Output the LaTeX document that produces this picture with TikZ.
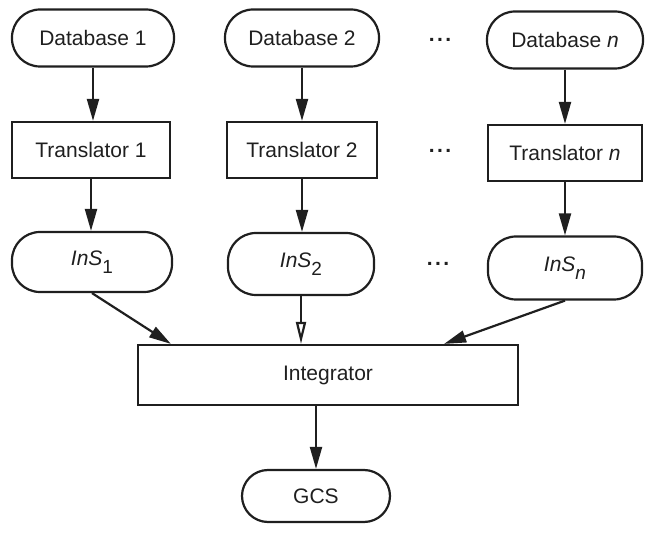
\documentclass[tikz,border=0pt]{standalone}
\usepackage{fontspec}
\setmainfont{Liberation Sans}
\usetikzlibrary{arrows.meta}
\newcommand{\lowsub}[1]{\raisebox{-0.7ex}{\fontsize{19}{21}\selectfont #1}}
\newcommand{\threedots}{\textbf{.\hspace{2.5pt}.\hspace{2.5pt}.}}
\begin{document}
\begin{tikzpicture}[x=1pt,y=-1pt,
  lbl/.style={font=\fontsize{21}{25}\selectfont, text=black!88},
  term/.style={lbl, draw=black!88, line width=2.2pt, rounded corners=28pt, minimum width=158pt, minimum height=57pt, inner sep=0pt},
  proc/.style={lbl, draw=black!88, line width=2.2pt, minimum width=156pt, minimum height=56pt, inner sep=0pt},
  arr/.style={draw=black!88, line width=2.2pt, -{Triangle[length=22pt,width=12pt]}},
  oarr/.style={draw=black!88, line width=2.2pt, -{Triangle[open,length=22pt,width=10pt]}},
  ell/.style={lbl}]
\useasboundingbox (0,0) rectangle (651,545);
% row 1
\node[term, minimum width=162pt] (db1) at (93,38) {Database 1};
\node[term, minimum width=154pt] (db2) at (302,38) {Database 2};
\node[term, minimum width=156pt] (dbn) at (565,40) {Database \textit{n}};
\node[ell] (e1) at (440,40) {\threedots};
% row 2
\node[proc, minimum width=158pt] (t1) at (91,150) {Translator 1};
\node[proc, minimum width=150pt] (t2) at (302,150) {Translator 2};
\node[proc, minimum width=154pt] (tn) at (565,153) {Translator \textit{n}};
\node[ell] (e2) at (440,151) {\threedots};
% row 3
\node[term, minimum width=160pt, minimum height=60pt] (s1) at (92,262) {\textit{InS}\lowsub{1}};
\node[term, minimum width=146pt, minimum height=62pt] (s2) at (301,264) {\textit{InS}\lowsub{2}};
\node[term, minimum width=154pt, minimum height=63pt] (sn) at (565,268) {\textit{InS}\lowsub{\textit{n}}};
\node[ell] (e3) at (438,264) {\threedots};
% integrator and GCS
\node[proc, minimum width=380pt, minimum height=60pt] (integ) at (328,375) {Integrator};
\node[term, minimum width=148pt, minimum height=52pt, rounded corners=26pt] (gcs) at (316,496) {GCS};
% connectors
\draw[arr] (db1.south) -- (db1.south |- t1.north);
\draw[arr] (db2.south) -- (db2.south |- t2.north);
\draw[arr] (dbn.south) -- (dbn.south |- tn.north);
\draw[arr] (t1.south) -- (t1.south |- s1.north);
\draw[arr] (t2.south) -- (t2.south |- s2.north);
\draw[arr] (tn.south) -- (tn.south |- sn.north);
\draw[arr] (s1.south) -- ([xshift=34pt]integ.north west);
\draw[oarr] (s2.south) -- (s2.south |- integ.north);
\draw[arr] (sn.south) -- ([xshift=-75pt]integ.north east);
\draw[arr] (integ.south -| gcs.north) -- (gcs.north);
\end{tikzpicture}
\end{document}
